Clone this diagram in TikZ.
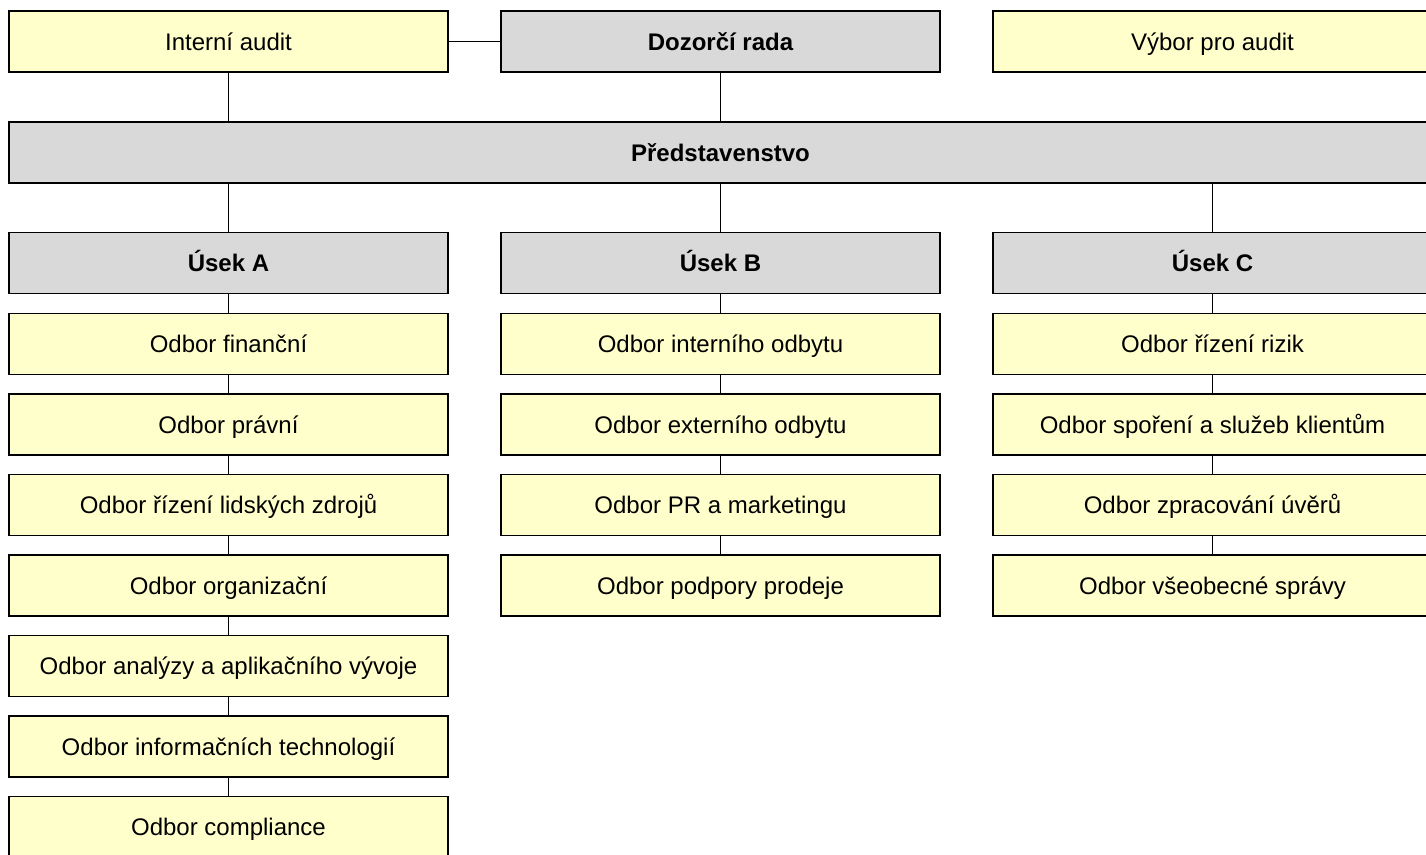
\documentclass[tikz,border=0pt]{standalone}
\usepackage{fontspec}
\setmainfont{Liberation Sans}
\usepackage{tikz}

\begin{document}
\begin{tikzpicture} [x=1pt, y=-1pt,
  box/.style={draw, line width=1.1pt, minimum width=439pt, minimum height=61pt,
    inner sep=0pt, text height=22pt, text depth=5pt, font=\fontsize{24}{28}\selectfont},
  odbor/.style={box, fill=yellowbox},
  vedeni/.style={box, fill=graybox, font=\fontsize{24}{28}\selectfont\bfseries},
  spoj/.style={line width=0.9pt}]

\definecolor{yellowbox}{HTML}{FFFFCC}
\definecolor{graybox}{HTML}{D9D9D9}

\clip (0,0) rectangle (1426,854);
\useasboundingbox (0,0) rectangle (1426,854);

% top row
\node [odbor] (audit) at (228.5, 41.5) {Interní audit};
\node [vedeni] (dr) at (720.5, 41.5) {Dozorčí rada};
\node [odbor] (vyb) at (1212.5, 41.5) {Výbor pro audit};

\node [vedeni, minimum width=1423pt] (pr) at (720.5, 152.5) {Představenstvo};

% useky
\node [vedeni] (ua) at (228.5, 263) {Úsek A};
\node [vedeni] (ub) at (720.5, 263) {Úsek B};
\node [vedeni] (uc) at (1212.5, 263) {Úsek C};

% odbory A
\node [odbor] (a1) at (228.5, 344) {Odbor finanční};
\node [odbor] (a2) at (228.5, 424.5) {Odbor právní};
\node [odbor] (a3) at (228.5, 505) {Odbor řízení lidských zdrojů};
\node [odbor] (a4) at (228.5, 585.5) {Odbor organizační};
\node [odbor] (a5) at (228.5, 666) {Odbor analýzy a aplikačního vývoje};
\node [odbor] (a6) at (228.5, 746.5) {Odbor informačních technologií};
\node [odbor] (a7) at (228.5, 827) {Odbor compliance};

% odbory B
\node [odbor] (b1) at (720.5, 344) {Odbor interního odbytu};
\node [odbor] (b2) at (720.5, 424.5) {Odbor externího odbytu};
\node [odbor] (b3) at (720.5, 505) {Odbor PR a marketingu};
\node [odbor] (b4) at (720.5, 585.5) {Odbor podpory prodeje};

% odbory C
\node [odbor] (c1) at (1212.5, 344) {Odbor řízení rizik};
\node [odbor] (c2) at (1212.5, 424.5) {Odbor spoření a služeb klientům};
\node [odbor] (c3) at (1212.5, 505) {Odbor zpracování úvěrů};
\node [odbor] (c4) at (1212.5, 585.5) {Odbor všeobecné správy};

% connectors
\draw [spoj] (audit.east) -- (dr.west);
\draw [spoj] (audit.south) -- (audit.south |- pr.north);
\draw [spoj] (dr.south) -- (pr.north);
\draw [spoj] (ua.north |- pr.south) -- (ua.north);
\draw [spoj] (pr.south) -- (ub.north);
\draw [spoj] (uc.north |- pr.south) -- (uc.north);

\draw [spoj] (ua) -- (a1);
\draw [spoj] (a1) -- (a2);
\draw [spoj] (a2) -- (a3);
\draw [spoj] (a3) -- (a4);
\draw [spoj] (a4) -- (a5);
\draw [spoj] (a5) -- (a6);
\draw [spoj] (a6) -- (a7);

\draw [spoj] (ub) -- (b1);
\draw [spoj] (b1) -- (b2);
\draw [spoj] (b2) -- (b3);
\draw [spoj] (b3) -- (b4);

\draw [spoj] (uc) -- (c1);
\draw [spoj] (c1) -- (c2);
\draw [spoj] (c2) -- (c3);
\draw [spoj] (c3) -- (c4);

\end{tikzpicture}
\end{document}
